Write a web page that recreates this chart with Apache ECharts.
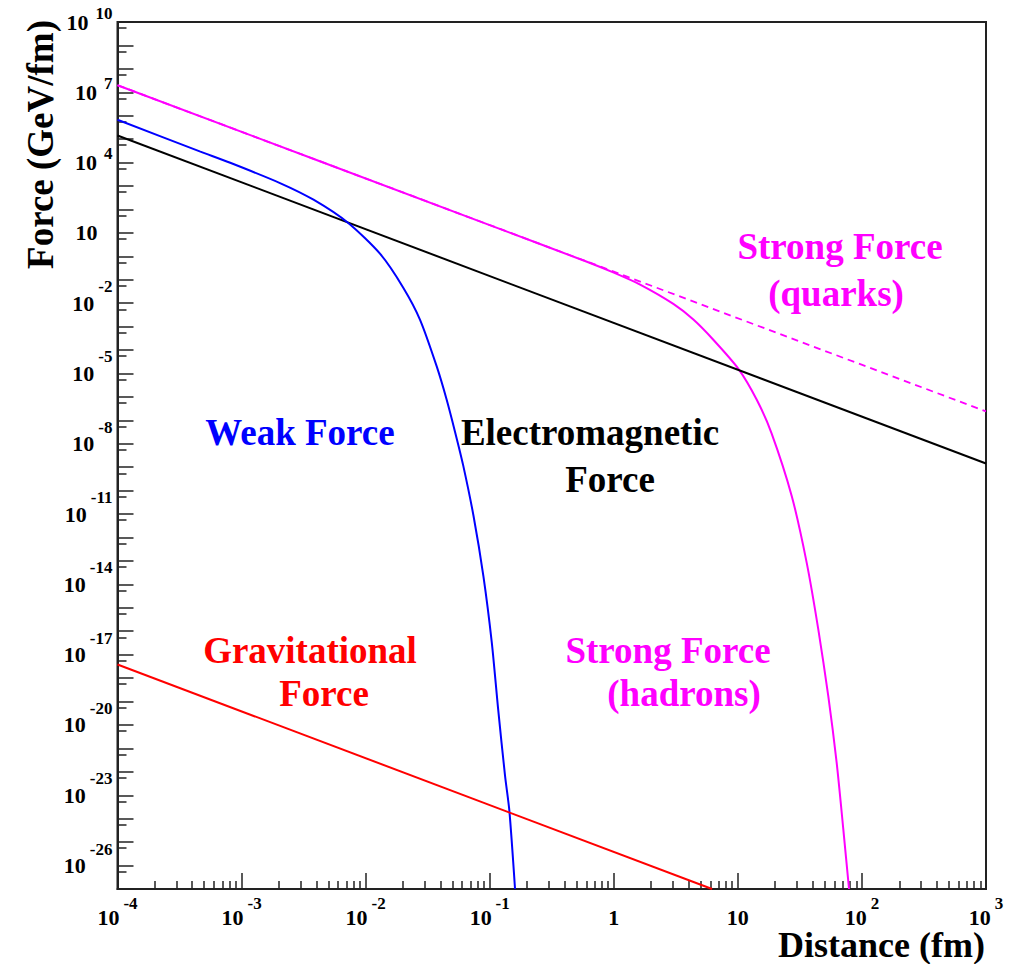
<!DOCTYPE html>
<html>
<head>
<meta charset="utf-8">
<script src="https://cdn.jsdelivr.net/npm/echarts@6/dist/echarts.min.js"></script>
<style>
html,body{margin:0;padding:0;background:#fff;}
#chart{width:1026px;height:964px;}
</style>
</head>
<body>
<div id="chart"></div>
<script>
// ---- data (distance in fm, force in GeV/fm) ----
const distQuark  = [1e-4, 1e3];
const forceQuark = [2e7, 2.4e-7];

const distHadron  = [1e-4, 0.1, 0.6, 1.0, 1.63, 3.02, 4.38, 6.34, 10.1, 14.2, 18.7, 27.2, 35.9, 44.5, 53.6, 62.6, 70.8, 78.7];
const forceHadron = [2e7, 21.5, 0.6, 0.2, 6.2e-2, 9.3e-3, 2.0e-3, 2.75e-4, 1.58e-5, 7.6e-7, 2.8e-8, 5.8e-11, 8.3e-14, 1.2e-16, 1.66e-19, 2.4e-22, 3.5e-25, 1e-27];

const distEM  = [1e-4, 1e3];
const forceEM = [1.44e5, 1.44e-9];

const distWeak  = [1e-4, 4.6e-4, 8.1e-4, 2.04e-3, 3.8e-3, 7.2e-3, 1.31e-2, 2.01e-2, 2.74e-2, 3.74e-2, 4.5e-2, 5.25e-2, 6.1e-2, 7.4e-2, 8.9e-2, 0.104, 0.117, 0.133, 0.144, 0.16];
const forceWeak = [6.7e5, 3.0e4, 9.8e3, 1.34e3, 2.6e2, 27, 1.26, 4.6e-2, 2.0e-3, 2.0e-5, 7.6e-7, 3.3e-8, 1.26e-9, 8.5e-12, 2.2e-14, 3.2e-17, 4.6e-20, 6.5e-23, 2.2e-24, 1e-27];

const distGrav  = [1e-4, 6.2];
const forceGrav = [3.8e-18, 1e-27];

// axis ranges (decades) and tick label exponents
const xRangeExp = [-4, 3];
const yRangeExp = [-27, 10];
const xLabelExponents = [-4, -3, -2, -1, 0, 1, 2, 3];
const yLabelExponents = [10, 7, 4, 1, -2, -5, -8, -11, -14, -17, -20, -23, -26];
const xMinorMantissas = [2, 3, 4, 5, 6, 7, 8, 9];
const yMinorMantissa = 5.5;

const FONT = '"Liberation Serif", "Times New Roman", serif';
const AX = '#222';

function pairs(xs, ys) { return xs.map((x, i) => [x, ys[i]]); }

function fmtX(v) {
  const n = Math.round(v);
  if (xLabelExponents.indexOf(n) < 0) return '';
  if (n === 0) return '{c|1}';
  if (n === 1) return '{c|10}';
  return '{b|10}{e|' + n + '}';
}
function fmtY(v) {
  const n = Math.round(v);
  if (yLabelExponents.indexOf(n) < 0) return '';
  if (n === 1) return '{b|10}{sp| }';
  return '{b|10}{' + (n < 0 ? 'en' : 'ep') + '|' + n + '}';
}

// minor tick positions in decade units
const xMinor = [];
for (let d = xRangeExp[0]; d < xRangeExp[1]; d++) xMinorMantissas.forEach(m => xMinor.push(d + Math.log10(m)));
const yMinor = [];
for (let d = yRangeExp[0]; d < yRangeExp[1]; d++) yMinor.push(d + Math.log10(yMinorMantissa));

const base = {fontFamily: FONT, fontWeight: 'bold', color: '#000'};

const chart = echarts.init(document.getElementById('chart'), null, {renderer: 'svg'});

function lbl(text, x, y, color) {
  return {
    type: 'text', x: x, y: y,
    style: {
      text: text, fill: color,
      font: 'bold 37px ' + FONT,
      align: 'center', verticalAlign: 'middle',
      textAlign: 'center', textVerticalAlign: 'middle'
    }
  };
}

const hidden = {axisLine: {show: false}, axisTick: {show: false}, axisLabel: {show: false}, splitLine: {show: false}};

const option = {
  animation: false,
  backgroundColor: '#fff',
  grid: {left: 117.5, right: 40, top: 22, bottom: 75, show: true, borderColor: AX, borderWidth: 2, backgroundColor: 'transparent'},
  xAxis: [
    Object.assign({type: 'log', logBase: 10, min: Math.pow(10, xRangeExp[0]), max: Math.pow(10, xRangeExp[1])}, hidden),
    {
      type: 'value', min: xRangeExp[0], max: xRangeExp[1], interval: 1, position: 'bottom',
      axisLine: {show: true, onZero: false, lineStyle: {color: AX, width: 2}},
      axisTick: {show: true, inside: true, length: 16, lineStyle: {color: AX, width: 1.5}},
      splitLine: {show: false},
      axisLabel: {
        show: true, interval: 0, margin: 6, showMinLabel: true, showMaxLabel: true,
        formatter: fmtX,
        rich: {
          b: Object.assign({fontSize: 22, verticalAlign: 'bottom'}, base),
          e: Object.assign({fontSize: 17, verticalAlign: 'top', padding: [0, 0, 16, 4]}, base),
          c: Object.assign({fontSize: 22, padding: [11, 0, 0, 0]}, base)
        }
      }
    },
    {
      type: 'value', min: xRangeExp[0], max: xRangeExp[1], position: 'bottom',
      axisLine: {show: false, onZero: false},
      axisTick: {show: true, inside: true, length: 8, customValues: xMinor, lineStyle: {color: AX, width: 1.5}},
      axisLabel: {show: false}, splitLine: {show: false}
    }
  ],
  yAxis: [
    Object.assign({type: 'log', logBase: 10, min: Math.pow(10, yRangeExp[0]), max: Math.pow(10, yRangeExp[1])}, hidden),
    {
      type: 'value', min: yRangeExp[0], max: yRangeExp[1], interval: 1, position: 'left',
      axisLine: {show: true, onZero: false, lineStyle: {color: AX, width: 2}},
      axisTick: {show: true, inside: true, length: 16, lineStyle: {color: AX, width: 1.5}},
      splitLine: {show: false},
      axisLabel: {
        show: true, interval: 0, margin: 5, showMinLabel: true, showMaxLabel: true,
        formatter: fmtY,
        rich: {
          b: Object.assign({fontSize: 22}, base),
          ep: Object.assign({fontSize: 17, padding: [0, 0, 18, 7]}, base),
          en: Object.assign({fontSize: 17, padding: [0, 0, 33, 4]}, base),
          sp: Object.assign({fontSize: 17, width: 15}, base)
        }
      }
    },
    {
      type: 'value', min: yRangeExp[0], max: yRangeExp[1], position: 'left',
      axisLine: {show: false, onZero: false},
      axisTick: {show: true, inside: true, length: 9, customValues: yMinor, lineStyle: {color: AX, width: 1.5}},
      axisLabel: {show: false}, splitLine: {show: false}
    }
  ],
  series: [
    {name: 'Strong Force (quarks)', type: 'line', data: pairs(distQuark, forceQuark), showSymbol: false, symbol: 'none',
     lineStyle: {color: '#ff00ff', width: 1.8, type: [7, 5]}, clip: true},
    {name: 'Strong Force (hadrons)', type: 'line', data: pairs(distHadron, forceHadron), showSymbol: false, symbol: 'none', smooth: 0.25,
     lineStyle: {color: '#ff00ff', width: 2}, clip: true},
    {name: 'Electromagnetic Force', type: 'line', data: pairs(distEM, forceEM), showSymbol: false, symbol: 'none',
     lineStyle: {color: '#000000', width: 2}, clip: true},
    {name: 'Weak Force', type: 'line', data: pairs(distWeak, forceWeak), showSymbol: false, symbol: 'none', smooth: 0.25,
     lineStyle: {color: '#0000ff', width: 2}, clip: true},
    {name: 'Gravitational Force', type: 'line', data: pairs(distGrav, forceGrav), showSymbol: false, symbol: 'none',
     lineStyle: {color: '#ff0000', width: 2}, clip: true}
  ],
  graphic: [
    lbl('Weak Force', 300, 432, '#0000ff'),
    lbl('Electromagnetic', 590, 432, '#000000'),
    lbl('Force', 610, 479, '#000000'),
    lbl('Strong Force', 840, 246, '#ff00ff'),
    lbl('(quarks)', 836, 293, '#ff00ff'),
    lbl('Gravitational', 310, 650, '#ff0000'),
    lbl('Force', 324, 693, '#ff0000'),
    lbl('Strong Force', 668, 650, '#ff00ff'),
    lbl('(hadrons)', 684, 693, '#ff00ff'),
    {type: 'text', x: 985, y: 945, style: {text: 'Distance (fm)', fill: '#000', font: 'bold 36px ' + FONT, lineHeight: 30,
      align: 'right', verticalAlign: 'middle', textAlign: 'right', textVerticalAlign: 'middle'}},
    {type: 'text', x: 40, y: 20, rotation: Math.PI / 2, style: {text: 'Force (GeV/fm)', fill: '#000', font: 'bold 37px ' + FONT,
      align: 'right', verticalAlign: 'middle', textAlign: 'right', textVerticalAlign: 'middle'}}
  ]
};
chart.setOption(option);
</script>
</body>
</html>
